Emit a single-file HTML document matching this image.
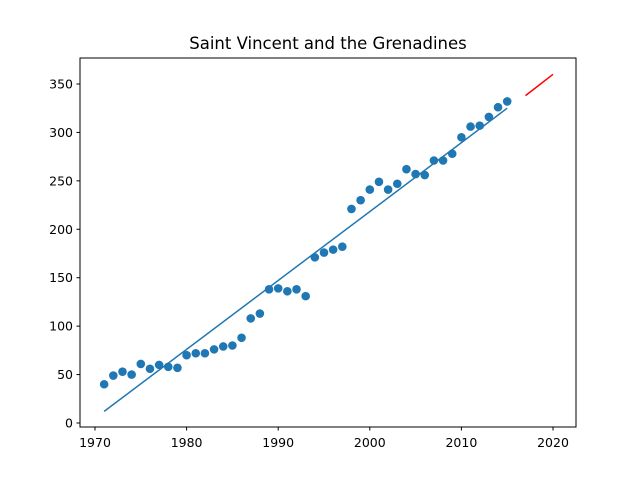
<!DOCTYPE html>
<html><head><meta charset="utf-8"><style>body{margin:0;background:#fff}svg{font-family:"DejaVu Sans","Liberation Sans",sans-serif}</style></head>
<body>
<svg id="c" width="640" height="480" xmlns="http://www.w3.org/2000/svg">
<rect x="0" y="0" width="640" height="480" fill="#fff"/>
<text x="328" y="49" font-size="16.5" text-anchor="middle">Saint Vincent and the Grenadines</text>
<g id="plot"></g>
<rect x="80" y="58" width="496" height="369" fill="none" stroke="#000" stroke-width="1"/>
</svg>
<script>
const years=[1971,1972,1973,1974,1975,1976,1977,1978,1979,1980,1981,1982,1983,1984,1985,1986,1987,1988,1989,1990,1991,1992,1993,1994,1995,1996,1997,1998,1999,2000,2001,2002,2003,2004,2005,2006,2007,2008,2009,2010,2011,2012,2013,2014,2015];
const values=[40,49,53,50,61,56,60,58,57,70,72,72,76,79,80,88,108,113,138,139,136,138,131,171,176,179,182,221,230,241,249,241,247,262,257,256,271,271,278,295,306,307,316,326,332];
const fitYears=[1971,2015];
const fitValues=[12,325];
const predYears=[2017,2020];
const predValues=[338,360];
const xTicks=[1970,1980,1990,2000,2010,2020];
const yTicks=[0,50,100,150,200,250,300,350];
const X=v=>95+(v-1970)*9.16;
const Y=v=>423-v*0.9686;
const NS="http://www.w3.org/2000/svg";
const g=document.getElementById('plot');
function mk(t,a){const e=document.createElementNS(NS,t);for(const k in a)e.setAttribute(k,a[k]);g.appendChild(e);return e;}
xTicks.forEach(t=>{
 const l=mk('line',{x1:X(t),x2:X(t),y1:427,y2:430.5,stroke:'#000'});
 
 
 const tx=mk('text',{x:X(t),y:447,'font-size':12.5,'text-anchor':'middle'});tx.textContent=t;
 
 
});
yTicks.forEach(t=>{
 const l=mk('line',{x1:76.5,x2:80,y1:Y(t),y2:Y(t),stroke:'#000'});
 
 
 const tx=mk('text',{x:73,y:Y(t)+4.5,'font-size':12.5,'text-anchor':'end'});tx.textContent=t;
 
 
});
years.forEach((y,i)=>{
 const c=mk('circle',{cx:X(y),cy:Y(values[i]),r:4.3,fill:'#1f77b4'});
 
 
});
const f=mk('line',{x1:X(fitYears[0]),y1:Y(fitValues[0]),x2:X(fitYears[1]),y2:Y(fitValues[1]),stroke:'#1f77b4','stroke-width':1.5});


const p=mk('line',{x1:X(predYears[0]),y1:Y(predValues[0]),x2:X(predYears[1]),y2:Y(predValues[1]),stroke:'red','stroke-width':1.5});


</script>
</body></html>
